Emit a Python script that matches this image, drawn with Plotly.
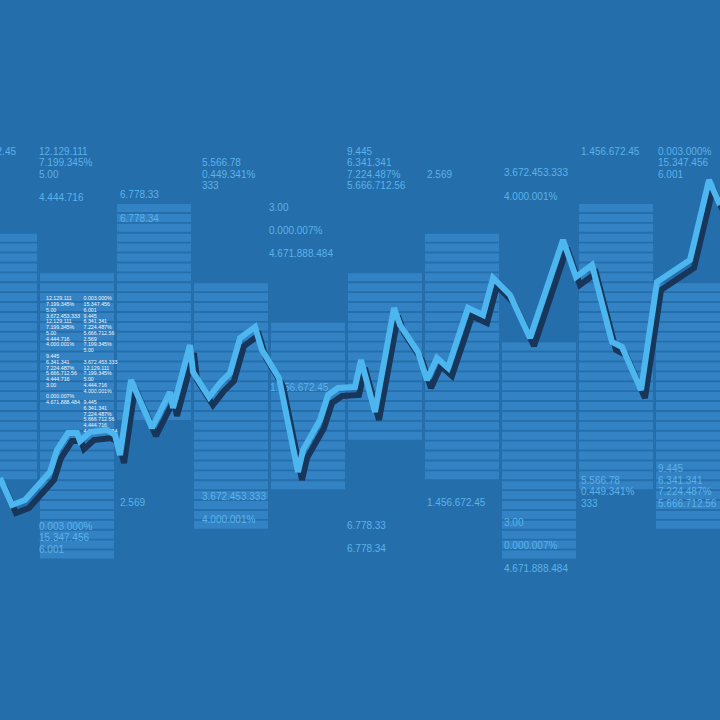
import plotly.graph_objects as go

# ---- price path (time step, price) ----
t = [0, 12, 25, 50, 57, 68, 77, 80, 90, 107, 115, 120, 131, 152, 170, 173, 190, 193,
     209, 220, 230, 240, 255, 262, 279, 298, 303, 320, 328, 338, 355, 361, 375, 394,
     400, 418, 427, 437, 448, 468, 483, 493, 510, 530, 563, 576, 592, 612, 622, 641,
     657, 690, 709, 720]
price = [242, 215, 220, 248, 270, 287, 287, 279, 288, 290, 285, 265, 340, 292, 328,
         312, 375, 348, 323, 337, 347, 382, 393, 370, 342, 248, 270, 300, 325, 332,
         333, 360, 308, 412, 395, 368, 340, 362, 352, 412, 405, 442, 425, 382, 480,
         443, 455, 378, 373, 330, 438, 460, 540, 515]

# ---- volume columns: high / low of each block ----
col_high = [486, 447, 516, 437, 397, 447, 486, 377, 516, 437]
col_low = [241, 161, 300, 191, 231, 280, 241, 161, 231, 191]

# ---- quote labels ----
label_text = [
    "1.456.672.45",
    "12.129.111", "7.199.345%", "5.00", "4.444.716",
    "6.778.33", "6.778.34",
    "5.566.78", "0.449.341%", "333",
    "3.00", "0.000.007%", "4.671.888.484",
    "9.445", "6.341.341", "7.224.487%", "5.666.712.56",
    "2.569",
    "3.672.453.333", "4.000.001%",
    "1.456.672.45",
    "0.003.000%", "15.347.456", "6.001",
    "2.569",
    "0.003.000%", "15.347.456", "6.001",
    "2.569",
    "3.672.453.333", "4.000.001%",
    "1.456.672.45",
    "6.778.33", "6.778.34",
    "1.456.672.45",
    "3.00", "0.000.007%", "4.671.888.484",
    "5.566.78", "0.449.341%", "333",
    "9.445", "6.341.341", "7.224.487%", "5.666.712.56",
]

# small ticker sheet (two columns)
sheet_left = ["12.129.111", "7.199.345%", "5.00", "3.672.453.333", "12.129.111",
              "7.199.345%", "5.00", "4.444.716", "4.000.001%", "", "9.445",
              "6.341.341", "7.224.487%", "5.666.712.56", "4.444.716", "3.00", "",
              "0.000.007%", "4.671.888.484"]
sheet_right = ["0.003.000%", "15.347.456", "6.001", "9.445", "6.341.341",
               "7.224.487%", "5.666.712.56", "2.569", "7.199.345%", "5.00", "",
               "3.672.453.333", "12.129.111", "7.199.345%", "5.00", "4.444.716",
               "4.000.001%", "", "9.445", "6.341.341", "7.224.487%",
               "5.666.712.56", "4.444.716", "4.671.888.484"]

# ---- layout / style ----
W = 720
BG = "#246eab"
SEG = "#3383c4"
TXT = "#5cb2ea"
LINE = "#4db6ee"
SHADOW = "#17365a"
FONT = "Liberation Sans, Arial"

col_pitch = 77
col_width = 74
row_pitch = 9.9
row_height = 8
grid_top = 516

label_x = [16, 39, 39, 39, 39, 120, 120, 202, 202, 202, 269, 269, 269,
           347, 347, 347, 347, 427, 504, 504, 581, 658, 658, 658,
           -4, 39, 39, 39, 120, 202, 202, 270, 347, 347, 427, 504, 504, 504,
           581, 581, 581, 658, 658, 658, 658]
label_py = [152, 152, 163, 175, 198, 195, 219, 163, 175, 186, 208, 231, 254,
            152, 163, 175, 186, 175, 173, 197, 152, 152, 163, 175,
            503, 527, 538, 550, 503, 497, 520, 388, 526, 549, 503, 523, 546, 569,
            481, 492, 504, 469, 481, 492, 504]
label_pos = ["middle left"] + ["middle right"] * (len(label_text) - 1)

fig = go.Figure()

# segmented volume blocks
seg_x, seg_base = [], []
for i, (hi, lo) in enumerate(zip(col_high, col_low)):
    k = 0
    while True:
        top = grid_top - k * row_pitch
        if top - row_height < lo - 0.6:
            break
        if top <= hi + 0.6:
            seg_x.append(i * col_pitch)
            seg_base.append(top - row_height)
        k += 1
fig.add_trace(go.Bar(
    x=seg_x, y=[row_height] * len(seg_x), base=seg_base, width=col_width,
    marker=dict(color=SEG, line=dict(width=0)), hoverinfo="skip",
))

# quote labels
fig.add_trace(go.Scatter(
    x=label_x, y=[W - p for p in label_py], text=label_text, mode="text",
    textposition=label_pos, textfont=dict(family=FONT, size=10, color=TXT),
    hoverinfo="skip", cliponaxis=False,
))

# small ticker sheet
sheet_top = W - 299
sheet_pitch = 5.77
for x0, col in ((46, sheet_left), (83.5, sheet_right)):
    fig.add_trace(go.Scatter(
        x=[x0] * len(col), y=[sheet_top - r * sheet_pitch for r in range(len(col))],
        text=col, mode="text", textposition="middle right",
        textfont=dict(family=FONT, size=5.3, color="#eef5fb"), hoverinfo="skip",
    ))

# price line with drop shadow (each on its own overlay axes so the shadow sits below)
fig.add_trace(go.Scatter(
    x=t, y=price, mode="lines", xaxis="x2", yaxis="y2",
    line=dict(color=SHADOW, width=6), hoverinfo="skip",
))
fig.add_trace(go.Scatter(
    x=t, y=price, mode="lines", xaxis="x3", yaxis="y3",
    line=dict(color=LINE, width=6), hoverinfo="skip",
))

axis_off = dict(visible=False, showgrid=False, zeroline=False, fixedrange=True)
fig.update_layout(
    width=W, height=W, margin=dict(l=0, r=0, t=0, b=0),
    paper_bgcolor=BG, plot_bgcolor=BG, showlegend=False, barmode="overlay",
    xaxis=dict(range=[0, W], **axis_off),
    yaxis=dict(range=[0, W], **axis_off),
    xaxis2=dict(range=[-4, W - 4], overlaying="x", **axis_off),
    yaxis2=dict(range=[8, W + 8], overlaying="y", **axis_off),
    xaxis3=dict(range=[0, W], overlaying="x", **axis_off),
    yaxis3=dict(range=[0, W], overlaying="y", **axis_off),
)

fig.write_html("out.html", config={"displayModeBar": False})
